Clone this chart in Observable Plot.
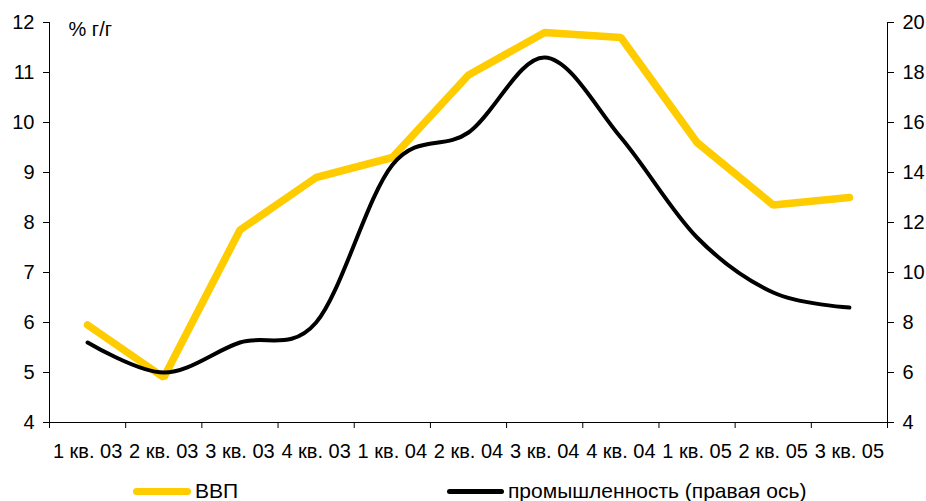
<!DOCTYPE html>
<html>
<head>
<meta charset="utf-8">
<script src="https://cdn.jsdelivr.net/npm/d3@7"></script>
<script src="https://cdn.jsdelivr.net/npm/@observablehq/plot@0.6"></script>
<style>
  html, body { margin: 0; padding: 0; background: #fff; }
  #wrap { position: relative; width: 926px; height: 501px; overflow: hidden; font-family: "Liberation Sans", Arial, sans-serif; }
  #legend { position: absolute; left: 0; top: 477px; width: 926px; height: 28px; font-size: 21px; color: #000; }
  .item { position: absolute; top: 0; display: flex; align-items: center; height: 28px; }
  .sw { display: inline-block; margin-right: 4px; border-radius: 4px; }
</style>
</head>
<body>
<div id="wrap">
  <div id="chart"></div>
  <div id="legend"></div>
</div>
<script>
const quarters = ["1 кв. 03","2 кв. 03","3 кв. 03","4 кв. 03","1 кв. 04","2 кв. 04","3 кв. 04","4 кв. 04","1 кв. 05","2 кв. 05","3 кв. 05"];
const gdp = [5.95, 4.9, 7.85, 8.9, 9.3, 10.95, 11.8, 11.7, 9.6, 8.35, 8.5];
const industry = [7.2, 6.0, 7.2, 8.0, 14.3, 15.6, 18.6, 15.4, 11.4, 9.2, 8.6];
const leftTicks = [4, 5, 6, 7, 8, 9, 10, 11, 12];
const rightTicks = [4, 6, 8, 10, 12, 14, 16, 18, 20];
const seriesNames = ["ВВП", "промышленность (правая ось)"];
const unitLabel = "% г/г";

// right-axis values mapped onto the left scale: 4..20 -> 4..12
const toLeft = v => 4 + (v - 4) / 2;
const fromLeft = p => 4 + (p - 4) * 2;

const gdpData = quarters.map((q, i) => ({x: i + 0.5, y: gdp[i]}));
const indData = quarters.map((q, i) => ({x: i + 0.5, y: toLeft(industry[i])}));
const boundaries = d3.range(quarters.length + 1);
const centers = quarters.map((q, i) => i + 0.5);

const font = "Liberation Sans, Arial, sans-serif";

const chart = Plot.plot({
  width: 926,
  height: 501,
  marginLeft: 49,
  marginRight: 39,
  marginTop: 22,
  marginBottom: 79,
  style: {fontFamily: font, fontSize: "20px", color: "#000", background: "#fff"},
  x: {type: "linear", domain: [0, quarters.length]},
  y: {domain: [4, 12]},
  marks: [
    Plot.ruleY([4], {stroke: "#000", strokeWidth: 1}),
    Plot.ruleX([0], {stroke: "#000", strokeWidth: 1}),
    Plot.ruleX([quarters.length], {stroke: "#000", strokeWidth: 1}),
    Plot.axisX({ticks: boundaries, tickFormat: () => "", tickSize: 6, stroke: "#000", label: null}),
    Plot.axisX({ticks: centers, tickFormat: d => quarters[Math.round(d - 0.5)], tickSize: 0, tickPadding: 21, label: null, fontSize: 20}),
    Plot.axisY({ticks: leftTicks, tickSize: 6, tickPadding: 9, label: null, fontSize: 20, stroke: "#000"}),
    Plot.axisY({anchor: "right", ticks: rightTicks.map(toLeft), tickFormat: fromLeft, tickSize: 6, tickPadding: 9, label: null, fontSize: 20, stroke: "#000"}),
    Plot.text([unitLabel], {frameAnchor: "top-left", dx: 19, dy: -1, fontSize: 20, textAnchor: "start", lineAnchor: "top"}),
    Plot.line(gdpData, {x: "x", y: "y", stroke: "#FFCC00", strokeWidth: 7.5, strokeLinejoin: "miter", strokeLinecap: "round"}),
    Plot.line(indData, {x: "x", y: "y", stroke: "#000", strokeWidth: 4, curve: "cardinal", strokeLinecap: "round"})
  ]
});
document.getElementById("chart").appendChild(chart);

const legend = document.getElementById("legend");
const items = [
  {name: seriesNames[0], color: "#FFCC00", w: 7, left: 133, len: 58},
  {name: seriesNames[1], color: "#000", w: 5, left: 447, len: 57}
];
for (const it of items) {
  const d = document.createElement("div");
  d.className = "item";
  d.style.left = it.left + "px";
  const s = document.createElement("span");
  s.className = "sw";
  s.style.width = it.len + "px";
  s.style.height = it.w + "px";
  s.style.background = it.color;
  const t = document.createElement("span");
  t.textContent = it.name;
  d.appendChild(s);
  d.appendChild(t);
  legend.appendChild(d);
}
</script>
</body>
</html>
